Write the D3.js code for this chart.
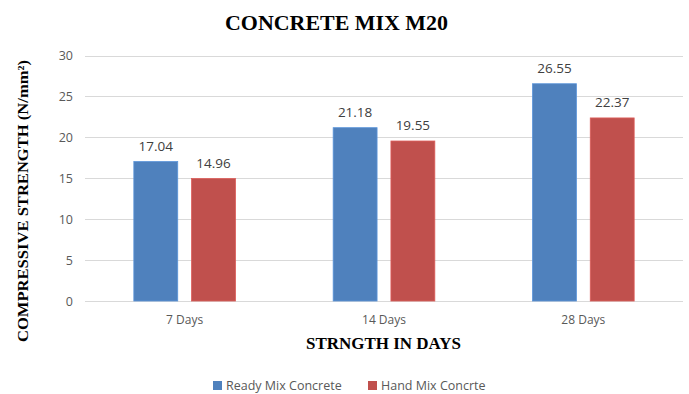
<!DOCTYPE html>
<html>
<head>
<meta charset="utf-8">
<script src="https://cdn.jsdelivr.net/npm/d3@7"></script>
<style>
  html, body { margin: 0; padding: 0; background: #fff; }
  svg { display: block; }
</style>
</head>
<body>
<svg id="chart" width="689" height="394"></svg>
<script>
// Compressive strength of M20 concrete by curing age
const categories = ["7 Days", "14 Days", "28 Days"];
const seriesNames = ["Ready Mix Concrete", "Hand Mix Concrte"];
const readyMix = [17.04, 21.18, 26.55];
const handMix = [14.96, 19.55, 22.37];
const yTicks = [0, 5, 10, 15, 20, 25, 30];
const colors = ["#4f81bd", "#c0504d"];

const W = 689, H = 394;
const margin = { left: 85, right: 6, top: 55.5, bottom: 93 };
const svg = d3.select("#chart");
const sans = "'Open Sans', 'Noto Sans', sans-serif";
const serif = "'Liberation Serif', 'DejaVu Serif', serif";

const x = d3.scaleBand()
  .domain(categories)
  .range([margin.left, W - margin.right])
  .paddingInner(0.49)
  .paddingOuter(0.245);

const x1 = d3.scaleBand()
  .domain(seriesNames)
  .range([0, x.bandwidth()])
  .paddingInner(0.24);

const y = d3.scaleLinear()
  .domain([0, 30])
  .range([H - margin.bottom, margin.top]);

// Horizontal gridlines
svg.append("g")
  .selectAll("line")
  .data(yTicks)
  .join("line")
  .attr("x1", margin.left)
  .attr("x2", W - margin.right)
  .attr("y1", d => Math.round(y(d)) + 0.5)
  .attr("y2", d => Math.round(y(d)) + 0.5)
  .attr("stroke", "#d9d9d9")
  .attr("stroke-width", 1);

// Y axis tick labels
const yAxis = d3.axisLeft(y).tickValues(yTicks).tickSize(0).tickPadding(12);
svg.append("g")
  .attr("transform", `translate(${margin.left},0)`)
  .call(yAxis)
  .call(g => g.select(".domain").remove())
  .call(g => g.selectAll("text")
    .attr("font-family", sans)
    .attr("font-size", 12.5)
    .attr("fill", "#595959"));

// X axis category labels
const xAxis = d3.axisBottom(x).tickSize(0).tickPadding(14);
svg.append("g")
  .attr("transform", `translate(0,${y(0)})`)
  .call(xAxis)
  .call(g => g.select(".domain").remove())
  .call(g => g.selectAll("text")
    .attr("font-family", sans)
    .attr("font-size", 12)
    .attr("fill", "#595959"));

// Grouped bars
const rows = categories.map((c, i) => ({
  category: c,
  values: [
    { name: seriesNames[0], value: readyMix[i], color: colors[0] },
    { name: seriesNames[1], value: handMix[i], color: colors[1] }
  ]
}));

const groups = svg.append("g")
  .selectAll("g")
  .data(rows)
  .join("g")
  .attr("transform", d => `translate(${x(d.category)},0)`);

groups.selectAll("rect")
  .data(d => d.values)
  .join("rect")
  .attr("x", d => x1(d.name))
  .attr("width", x1.bandwidth())
  .attr("y", d => y(d.value))
  .attr("height", d => y(0) - y(d.value))
  .attr("fill", d => d.color)
  .attr("stroke", d => d3.color(d.color).brighter(0.4))
  .attr("stroke-width", 0.8);

groups.selectAll("text.val")
  .data(d => d.values)
  .join("text")
  .attr("class", "val")
  .attr("x", d => x1(d.name) + x1.bandwidth() / 2)
  .attr("y", d => y(d.value) - 11)
  .attr("text-anchor", "middle")
  .attr("font-family", sans)
  .attr("font-size", 13.5)
  .attr("fill", "#404040")
  .text(d => d.value.toFixed(2));

// Title
svg.append("text")
  .attr("x", 336.5)
  .attr("y", 30)
  .attr("text-anchor", "middle")
  .attr("font-family", serif)
  .attr("font-weight", "bold")
  .attr("font-size", 22)
  .attr("textLength", 223)
  .attr("lengthAdjust", "spacingAndGlyphs")
  .attr("fill", "#000")
  .text("CONCRETE MIX M20");

// Y axis title
svg.append("text")
  .attr("transform", "translate(28,201) rotate(-90)")
  .attr("text-anchor", "middle")
  .attr("font-family", serif)
  .attr("font-weight", "bold")
  .attr("font-size", 15)
  .attr("textLength", 282)
  .attr("lengthAdjust", "spacingAndGlyphs")
  .attr("fill", "#000")
  .text("COMPRESSIVE STRENGTH (N/mm²)");

// X axis title
svg.append("text")
  .attr("x", 383.5)
  .attr("y", 349)
  .attr("text-anchor", "middle")
  .attr("font-family", serif)
  .attr("font-weight", "bold")
  .attr("font-size", 16)
  .attr("textLength", 155)
  .attr("lengthAdjust", "spacingAndGlyphs")
  .attr("fill", "#000")
  .text("STRNGTH IN DAYS");

// Legend
const legendX = [213, 368];
const legend = svg.append("g")
  .selectAll("g")
  .data(seriesNames)
  .join("g")
  .attr("transform", (d, i) => `translate(${legendX[i]},381)`);

legend.append("rect")
  .attr("width", 9)
  .attr("height", 9)
  .attr("fill", (d, i) => colors[i]);

legend.append("text")
  .attr("x", 13)
  .attr("y", 9)
  .attr("font-family", sans)
  .attr("font-size", 12.5)
  .attr("fill", "#595959")
  .text(d => d);
</script>
</body>
</html>
